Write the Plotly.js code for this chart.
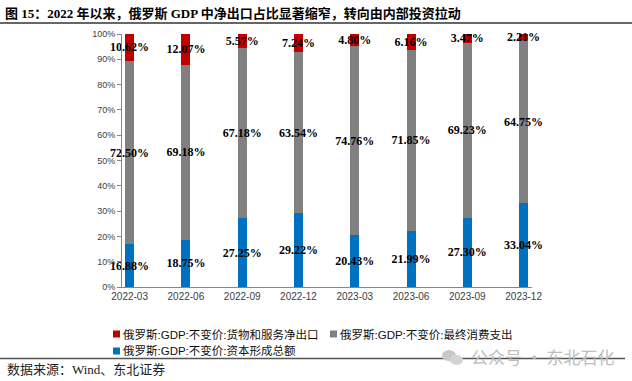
<!DOCTYPE html>
<html><head><meta charset="utf-8">
<script src="https://cdn.plot.ly/plotly-3.0.1.min.js"></script>
<style>html,body{margin:0;padding:0;background:#fff}</style>
</head><body><div id="chart" style="width:632px;height:381px"></div>
<script>
const categories = ['2022-03','2022-06','2022-09','2022-12','2023-03','2023-06','2023-09','2023-12'];
const netExport = [10.62, 12.07, 5.57, 7.24, 4.80, 6.16, 3.47, 2.21];
const consumption = [72.50, 69.18, 67.18, 63.54, 74.76, 71.85, 69.23, 64.75];
const capitalFormation = [16.88, 18.75, 27.25, 29.22, 20.43, 21.99, 27.30, 33.04];
const seriesNames = ['俄罗斯:GDP:不变价:资本形成总额', '俄罗斯:GDP:不变价:最终消费支出', '俄罗斯:GDP:不变价:货物和服务净出口'];
const seriesColors = ['#0070C0', '#808080', '#C00000'];
const yTicks = [0,10,20,30,40,50,60,70,80,90,100];

const W = 632, H = 381;
const L = 122, R = 100, T = 34, B = 94;
const pw = W - L - R, ph = H - T - B;
const px = x => (x - L) / pw;
const py = y => (H - B - y) / ph;

const pos = categories.map((_, i) => i);
const xRange = [-0.135, 7.149];
const labelFont = {family: '"Times New Roman", "Liberation Serif", serif', size: 12, color: '#000', weight: 'bold'};

function barTrace(vals, name, color) {
  return {
    type: 'bar', x: pos, y: vals, name: name,
    marker: {color: color, line: {width: 0}},
    width: 0.16,
    text: vals.map(v => v.toFixed(2) + '%'),
    textposition: 'inside', insidetextanchor: 'middle', textangle: 0,
    constraintext: 'none', cliponaxis: false,
    textfont: labelFont, insidetextfont: labelFont,
    hoverinfo: 'skip', showlegend: false
  };
}

const data = [
  barTrace(capitalFormation, seriesNames[0], seriesColors[0]),
  barTrace(consumption, seriesNames[1], seriesColors[1]),
  barTrace(netExport, seriesNames[2], seriesColors[2])
];

// legend entries (drawn manually): [series index, swatch left px, row center px]
const legendItems = [[2, 113, 334], [1, 330, 334], [0, 113, 351]];
const legendFont = {family: 'Arial, "Liberation Sans", "Noto Sans CJK SC", sans-serif', size: 11.5, color: '#111'};
const legendShapes = legendItems.map(([s, x, y]) => ({
  type: 'rect', xref: 'paper', yref: 'paper',
  x0: px(x), x1: px(x + 7), y0: py(y + 3.5), y1: py(y - 3.5),
  fillcolor: seriesColors[s], line: {width: 0}
}));
const legendTexts = legendItems.map(([s, x, y]) => ({
  text: seriesNames[s], xref: 'paper', yref: 'paper',
  x: px(x + 8), y: py(y), xanchor: 'left', yanchor: 'middle',
  showarrow: false, font: legendFont
}));

const layout = {
  width: W, height: H,
  margin: {l: L, r: R, t: T, b: B, pad: 0},
  paper_bgcolor: '#fff', plot_bgcolor: '#fff',
  barmode: 'stack',
  showlegend: false,
  title: {
    text: '图 15：2022 年以来，俄罗斯 GDP 中净出口占比显著缩窄，转向由内部投资拉动',
    font: {family: '"Times New Roman", "Liberation Serif", "Noto Sans CJK SC", serif', size: 13, color: '#000', weight: 'bold'},
    x: 5 / W, xanchor: 'left', xref: 'container',
    y: 1 - 13 / H, yanchor: 'middle', yref: 'container'
  },
  xaxis: {
    range: xRange, tickvals: pos, ticktext: categories,
    ticks: '', showline: true, linecolor: '#868686', linewidth: 1,
    showgrid: false, zeroline: false,
    tickfont: {family: 'Arial, "Liberation Sans", sans-serif', size: 10, color: '#404040'},
    fixedrange: true
  },
  xaxis2: {
    overlaying: 'x', anchor: 'y', side: 'bottom',
    range: xRange, tickvals: pos.slice(0, 7).map(i => i + 0.85),
    ticks: 'outside', ticklen: 4, tickcolor: '#868686', tickwidth: 1,
    showticklabels: false, showline: false, showgrid: false, zeroline: false
  },
  yaxis: {
    range: [0, 100], tickvals: yTicks, ticktext: yTicks.map(v => v + '%'),
    ticks: 'outside', ticklen: 4, tickcolor: '#868686',
    showline: true, linecolor: '#868686', linewidth: 1,
    showgrid: false, zeroline: false,
    tickfont: {family: 'Arial, "Liberation Sans", sans-serif', size: 9, color: '#404040'},
    fixedrange: true
  },
  shapes: [
    {type: 'line', xref: 'paper', yref: 'paper', x0: px(0), x1: px(632), y0: py(23), y1: py(23), line: {color: '#333', width: 1.5}},
    {type: 'line', xref: 'paper', yref: 'paper', x0: px(0), x1: px(625), y0: py(358.5), y1: py(358.5), line: {color: '#555', width: 1.5}},
    {type: 'circle', xref: 'paper', yref: 'paper', x0: px(442), x1: px(456), y0: py(350), y1: py(361), fillcolor: '#c8c8c8', line: {width: 0}},
    {type: 'circle', xref: 'paper', yref: 'paper', x0: px(450), x1: px(463), y0: py(355), y1: py(365), fillcolor: '#d4d4d4', line: {width: 0}}
  ].concat(legendShapes),
  annotations: [
    {text: '数据来源：Wind、东北证券', xref: 'paper', yref: 'paper', x: px(5), y: py(369), xanchor: 'left', yanchor: 'middle', showarrow: false,
     font: {family: '"Times New Roman", "Noto Sans CJK SC", serif', size: 13, color: '#222'}},
    {text: '公众号 · 东北石化', xref: 'paper', yref: 'paper', x: px(469), y: py(356.5), xanchor: 'left', yanchor: 'middle', showarrow: false,
     font: {family: '"Noto Sans CJK SC", sans-serif', size: 17, color: '#bdbdbd'}}
  ].concat(legendTexts)
};

Plotly.newPlot('chart', data, layout, {displayModeBar: false, staticPlot: true});
</script></body></html>
